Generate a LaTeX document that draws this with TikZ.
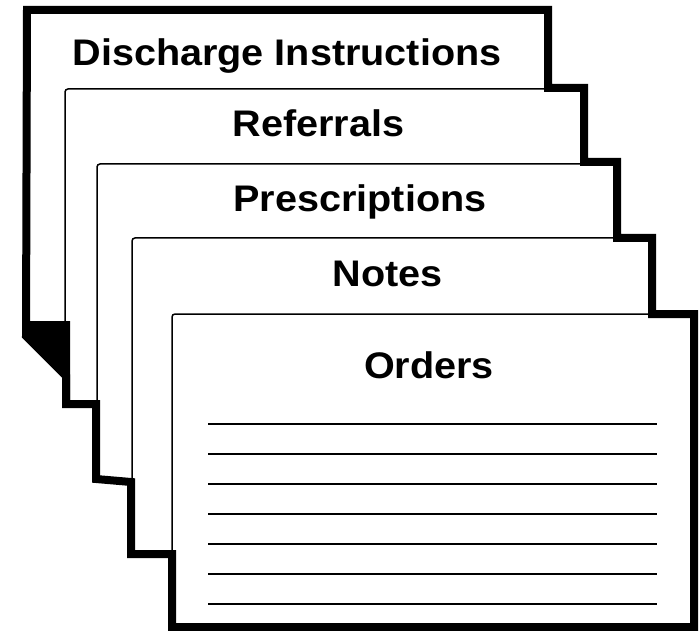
\documentclass[tikz,border=0pt]{standalone}
\usepackage{fontspec}
\setmainfont{Liberation Sans}
\begin{document}
\begin{tikzpicture}[x=1pt,y=-1pt,
  card/.style={draw=black, fill=white, line width=1.5pt, rounded corners=3pt},
  outline/.style={draw=black, line width=8pt, line join=miter},
  fold/.style={fill=black},
  rule/.style={draw=black, line width=2pt},
  title/.style={inner sep=0pt, anchor=base,
    font=\fontsize{37}{40}\selectfont\bfseries}]
\useasboundingbox (0,0) rectangle (699,631);

% stacked cards in front of the back card, from the back to the front
\draw[card] (65,89)   rectangle (584,404);
\draw[card] (97,164)  rectangle (617,480);
\draw[card] (132,238) rectangle (652,554);
\draw[card] (172,314) rectangle (694,627);

% folded corner of the back card
\fill[fold] (27,321) -- (70,321) -- (70,404) -- (66,404) -- (66,376) -- (26,336) -- cycle;

% heavy outline around the whole stack
\draw[outline] (27,10) -- (548,10) -- (548,88) -- (584,88) -- (584,162)
  -- (617,162) -- (617,238) -- (652,238) -- (652,314) -- (694,314)
  -- (694,627) -- (172,627) -- (172,554) -- (131,554) -- (131,482)
  -- (96,479) -- (96,404) -- (66,404) -- (66,376) -- (26,336) -- cycle;

% ruled lines on the front card
\foreach \k in {0,...,6}
  \draw[rule] (208,424+30*\k) -- (657,424+30*\k);

% card titles
\node[title] (discharge) at (287,66) {\scalebox{1.07}[1]{Discharge Instructions}};
\node[title] (referrals) at (318.5,137) {\scalebox{1.07}[1]{Referrals}};
\node[title] (prescriptions) at (360,212) {\scalebox{1.07}[1]{Prescriptions}};
\node[title] (notes) at (387.5,287) {\scalebox{1.07}[1]{Notes}};
\node[title] (orders) at (429,378) {\scalebox{1.07}[1]{Orders}};
\end{tikzpicture}
\end{document}
